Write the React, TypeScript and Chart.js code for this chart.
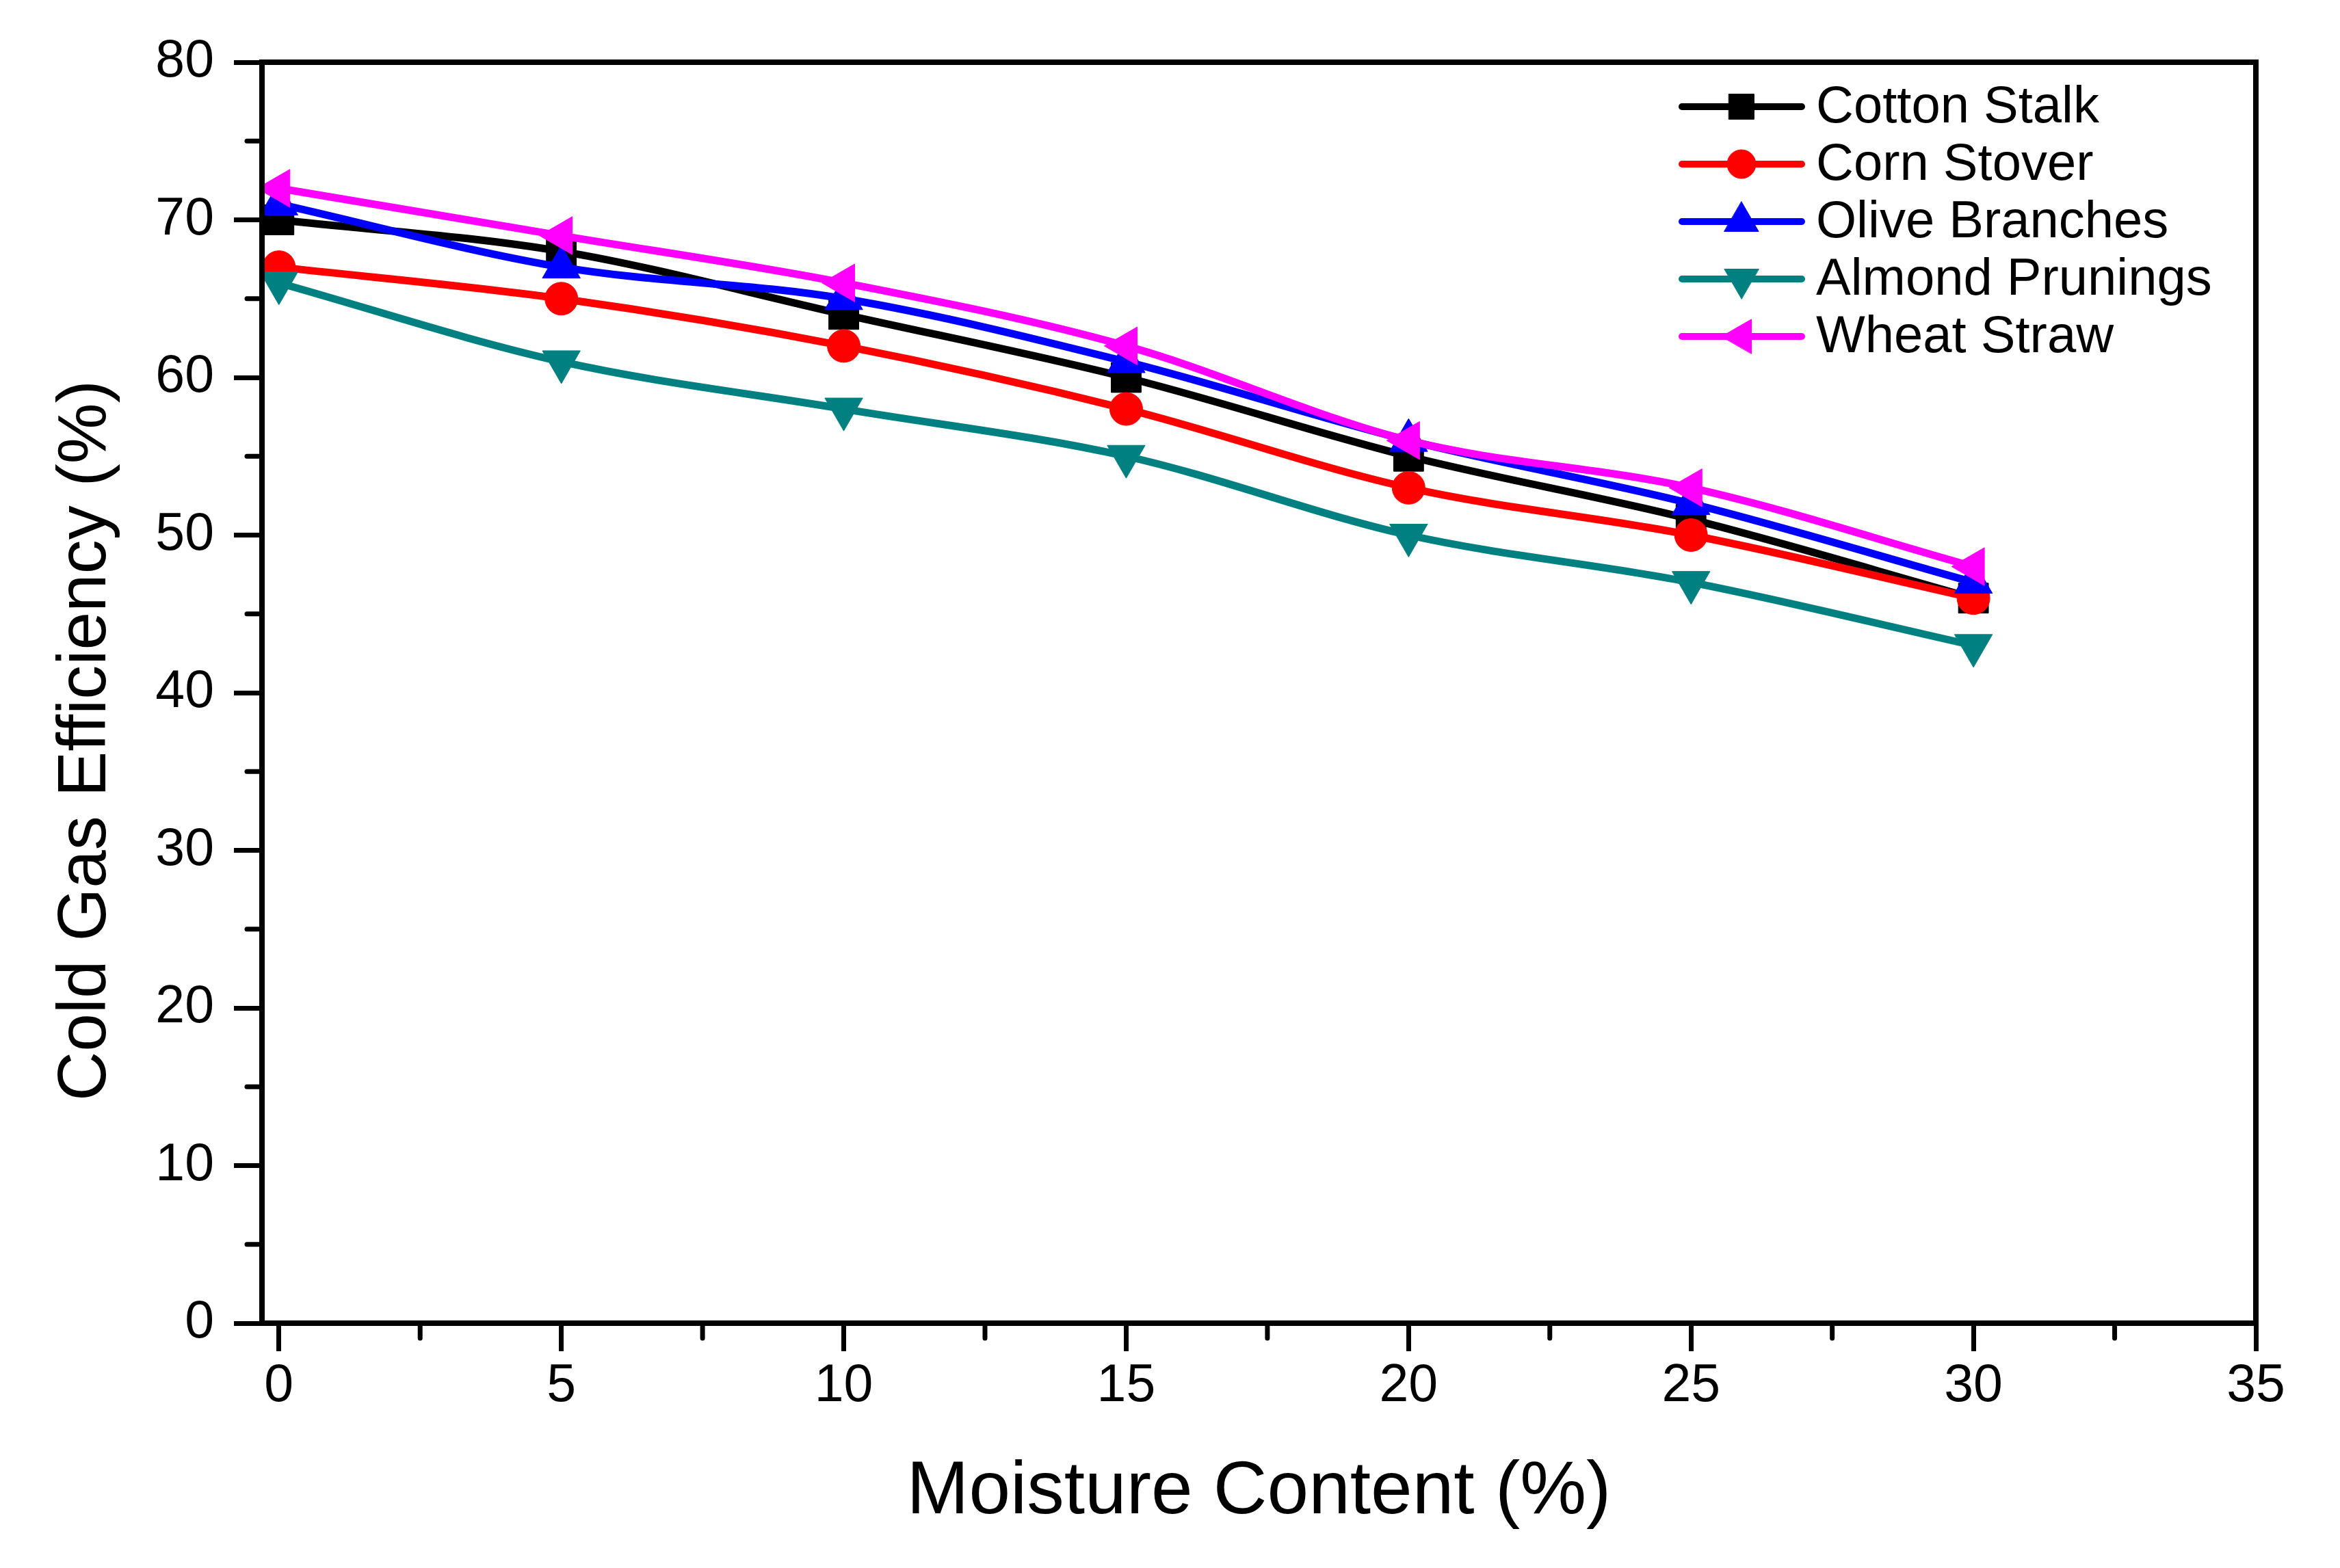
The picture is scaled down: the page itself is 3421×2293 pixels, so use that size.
import { useEffect, useRef } from 'react';
import Chart from 'chart.js/auto';
import { drawPoint } from 'chart.js/helpers';

// moisture content (%) on the x axis
const moisture = [0, 5, 10, 15, 20, 25, 30];

// cold gas efficiency (%) per feedstock
const cottonStalk = [70, 68, 64, 60, 55, 51, 46];
const cornStover = [67, 65, 62, 58, 53, 50, 46];
const oliveBranches = [71, 67, 65, 61, 56, 52, 47];
const almondPrunings = [66, 61, 58, 55, 50, 47, 43];
const wheatStraw = [72, 69, 66, 62, 56, 53, 48];

const seriesNames = ['Cotton Stalk', 'Corn Stover', 'Olive Branches', 'Almond Prunings', 'Wheat Straw'];

const xTicks = [0, 5, 10, 15, 20, 25, 30, 35];
const yTicks = [0, 10, 20, 30, 40, 50, 60, 70, 80];

const xTitle = 'Moisture Content (%)';
const yTitle = 'Cold Gas Efficiency (%)';

const colors = ['#000000', '#ff0000', '#0000ff', '#008080', '#ff00ff'];
const pointStyles = ['rect', 'circle', 'triangle', 'triangle', 'triangle'];
const rotations = [0, 0, 0, 180, -90];
const pointRadii = [31, 24, 32, 32, 32];
const legendRadii = [26, 21, 29, 29, 29];

const FONT = '"Liberation Sans", Arial, sans-serif';

const decorPlugin = {
  id: 'decor',
  afterDraw(chart: any) {
    const { ctx, chartArea, scales } = chart;
    const { left, right, top, bottom } = chartArea;
    ctx.save();

    // minor ticks halfway between the major ones
    ctx.strokeStyle = '#000';
    ctx.lineWidth = 7;
    ctx.lineCap = 'round';
    for (let i = 0; i < xTicks.length - 1; i++) {
      const px = scales.x.getPixelForValue((xTicks[i] + xTicks[i + 1]) / 2);
      ctx.beginPath();
      ctx.moveTo(px, bottom);
      ctx.lineTo(px, bottom + 22);
      ctx.stroke();
    }
    for (let i = 0; i < yTicks.length - 1; i++) {
      const py = scales.y.getPixelForValue((yTicks[i] + yTicks[i + 1]) / 2);
      ctx.beginPath();
      ctx.moveTo(left, py);
      ctx.lineTo(left - 22, py);
      ctx.stroke();
    }

    // box round the plot
    ctx.lineWidth = 8;
    ctx.lineCap = 'butt';
    ctx.lineJoin = 'miter';
    ctx.strokeRect(left, top, right - left, bottom - top);

    // axis titles
    ctx.fillStyle = '#000';
    ctx.textBaseline = 'alphabetic';
    ctx.textAlign = 'center';
    ctx.font = `109px ${FONT}`;
    ctx.fillText(xTitle, (left + right) / 2, bottom + 278);

    ctx.save();
    ctx.font = `100px ${FONT}`;
    ctx.translate(154, (top + bottom) / 2 + 70);
    ctx.rotate(-Math.PI / 2);
    ctx.fillText(yTitle, 0, 0);
    ctx.restore();

    // legend: line sample with marker, then the name
    ctx.font = `76px ${FONT}`;
    ctx.textAlign = 'left';
    ctx.textBaseline = 'middle';
    seriesNames.forEach((name, i) => {
      const y = top + 65 + i * 84;
      ctx.strokeStyle = colors[i];
      ctx.fillStyle = colors[i];
      ctx.lineWidth = 10;
      ctx.lineCap = 'round';
      ctx.beginPath();
      ctx.moveTo(right - 839, y);
      ctx.lineTo(right - 664, y);
      ctx.stroke();
      ctx.lineWidth = 1;
      drawPoint(ctx, {
        pointStyle: pointStyles[i] as any,
        rotation: rotations[i],
        radius: legendRadii[i],
        borderWidth: 1,
      }, right - 752, y);
      ctx.fillStyle = '#000';
      ctx.fillText(name, right - 643, y + 2);
    });

    ctx.restore();
  },
};

export default function App() {
  const canvasRef = useRef<HTMLCanvasElement>(null);

  useEffect(() => {
    if (!canvasRef.current) return;
    document.body.style.margin = '0';
    document.body.style.overflow = 'hidden';

    const allSeries = [cottonStalk, cornStover, oliveBranches, almondPrunings, wheatStraw];

    const chart = new Chart(canvasRef.current, {
      type: 'line',
      data: {
        datasets: allSeries.map((values, i) => ({
          label: seriesNames[i],
          data: moisture.map((x, j) => ({ x, y: values[j] })),
          borderColor: colors[i],
          backgroundColor: colors[i],
          borderWidth: 11,
          borderJoinStyle: 'round',
          borderCapStyle: 'round',
          cubicInterpolationMode: 'monotone',
          pointStyle: pointStyles[i],
          pointRotation: rotations[i],
          pointRadius: pointRadii[i],
          pointBorderWidth: 1,
          pointBorderColor: colors[i],
          pointBackgroundColor: colors[i],
          clip: 0,
          order: allSeries.length - i, // later series drawn on top
        })) as any,
      },
      options: {
        animation: false,
        responsive: true,
        maintainAspectRatio: false,
        devicePixelRatio: 1,
        layout: { padding: { left: 0, top: 91, right: 123, bottom: 0 } },
        plugins: {
          legend: { display: false },
          tooltip: { enabled: false },
        },
        scales: {
          x: {
            type: 'linear',
            min: -0.3,
            max: 35,
            afterBuildTicks: (scale: any) => {
              scale.ticks = xTicks.map(v => ({ value: v }));
            },
            afterFit: (scale: any) => {
              scale.height = 358;
            },
            ticks: {
              color: '#000',
              font: { size: 77, family: FONT },
              padding: 6,
              maxRotation: 0,
              callback: (v: any) => String(v),
            },
            grid: {
              drawOnChartArea: false,
              drawTicks: true,
              tickLength: 41,
              tickWidth: 7,
              tickColor: '#000',
            },
            border: { display: true, color: '#000', width: 8 },
          },
          y: {
            type: 'linear',
            min: 0,
            max: 80,
            afterBuildTicks: (scale: any) => {
              scale.ticks = yTicks.map(v => ({ value: v }));
            },
            afterFit: (scale: any) => {
              scale.width = 383;
            },
            ticks: {
              color: '#000',
              font: { size: 77, family: FONT },
              padding: 29,
              callback: (v: any) => String(v),
            },
            grid: {
              drawOnChartArea: false,
              drawTicks: true,
              tickLength: 41,
              tickWidth: 7,
              tickColor: '#000',
            },
            border: { display: true, color: '#000', width: 8 },
          },
        },
      },
      plugins: [decorPlugin],
    });

    return () => {
      chart.destroy();
    };
  }, []);

  return (
    <div style={{ position: 'fixed', left: 0, top: 0, width: '100vw', height: '100vh', background: '#fff' }}>
      <canvas ref={canvasRef}></canvas>
    </div>
  );
}
